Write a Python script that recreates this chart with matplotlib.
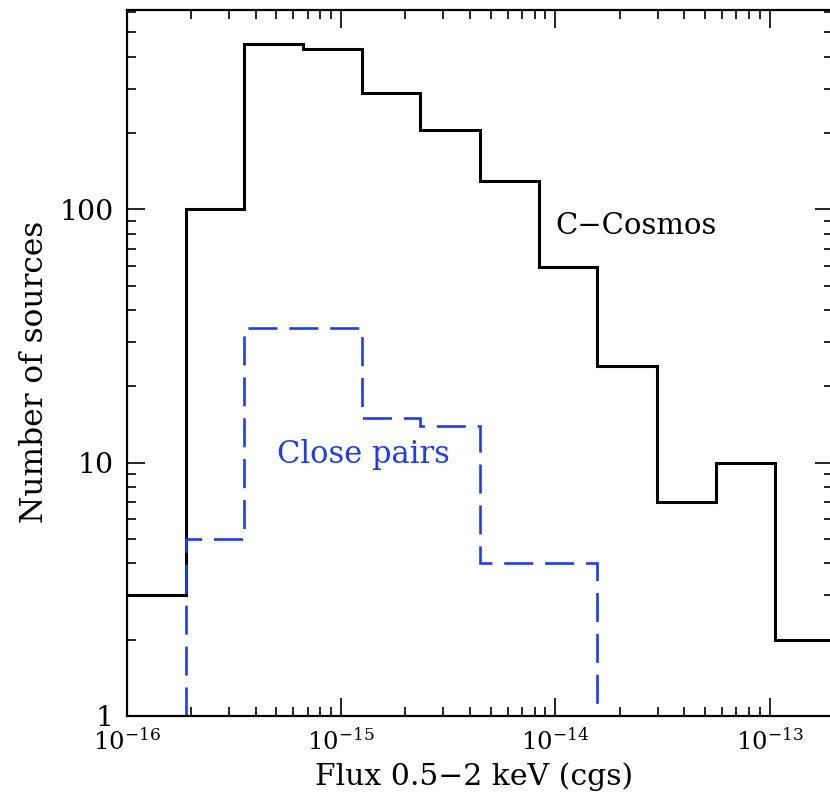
import matplotlib
matplotlib.use("Agg")
import matplotlib.pyplot as plt
from matplotlib.ticker import FixedLocator, LogLocator, NullFormatter, LogFormatterMathtext

plt.rcParams["font.family"] = ["DejaVu Serif"]
plt.rcParams["mathtext.fontset"] = "dejavuserif"

# Flux bin edges (erg/cm^2/s), 0.5-2 keV
bin_edges = [1.0e-16, 1.89e-16, 3.53e-16, 6.63e-16, 1.25e-15, 2.34e-15,
             4.45e-15, 8.4e-15, 1.57e-14, 2.97e-14, 5.6e-14, 1.06e-13, 2.0e-13]

# Number of sources per bin, full C-Cosmos sample
cosmos_counts = [3, 100, 451, 431, 287, 206, 130, 59, 24, 7, 10, 2]

# Number of sources per bin in close pairs (bins 1..7)
pairs_edges = bin_edges[1:9]
pairs_counts = [5, 34, 34, 15, 14, 4, 4]

BLUE = "#1f3cf0"

fig = plt.figure(figsize=(8.3, 8.0), dpi=100)
ax = fig.add_axes([126.5 / 830, 84 / 800, (833 - 126.5) / 830, 706 / 800])

ax.stairs(cosmos_counts, bin_edges, baseline=None, color="black", lw=2.2)
ax.stairs(pairs_counts, pairs_edges, baseline=1, color=BLUE, lw=1.9,
          linestyle=(0, (11, 4.5)))

ax.set_xscale("log")
ax.set_yscale("log")
ax.set_xlim(1e-16, 10 ** (-16 + (833 - 126.5) / 214.4))
ax.set_ylim(1, 10 ** (706 / 253.3))

ax.xaxis.set_major_locator(LogLocator(base=10, numticks=10))
ax.xaxis.set_minor_locator(LogLocator(base=10, subs=range(2, 10), numticks=100))
ax.xaxis.set_major_formatter(LogFormatterMathtext())
ax.xaxis.set_minor_formatter(NullFormatter())

ax.yaxis.set_major_locator(FixedLocator([1, 10, 100]))
ax.set_yticklabels(["1", "10", "100"])
ax.yaxis.set_minor_locator(LogLocator(base=10, subs=range(2, 10), numticks=100))
ax.yaxis.set_minor_formatter(NullFormatter())

ax.tick_params(which="both", direction="in", top=True, right=True,
               width=1.2, pad=9)
ax.tick_params(axis="x", labelsize=17.5)
ax.tick_params(axis="y", labelsize=20.5)
ax.tick_params(which="major", length=13)
ax.tick_params(which="minor", length=6.5)
for s in ax.spines.values():
    s.set_linewidth(1.6)

ax.set_xlabel("Flux 0.5\u22122 keV (cgs)", fontsize=21.5, labelpad=5)
ax.xaxis.label.set_x(0.492)
ax.set_ylabel("Number of sources", fontsize=22.5, labelpad=7)
ax.yaxis.label.set_y(0.487)

ax.annotate("C\u2212Cosmos", xy=(555, 800 - 226), xycoords="figure pixels",
            fontsize=21, va="center", ha="left", color="black")
ax.annotate("Close pairs", xy=(277, 800 - 455), xycoords="figure pixels",
            fontsize=22, va="center", ha="left", color=BLUE)

fig.savefig("out.png", dpi=100)
